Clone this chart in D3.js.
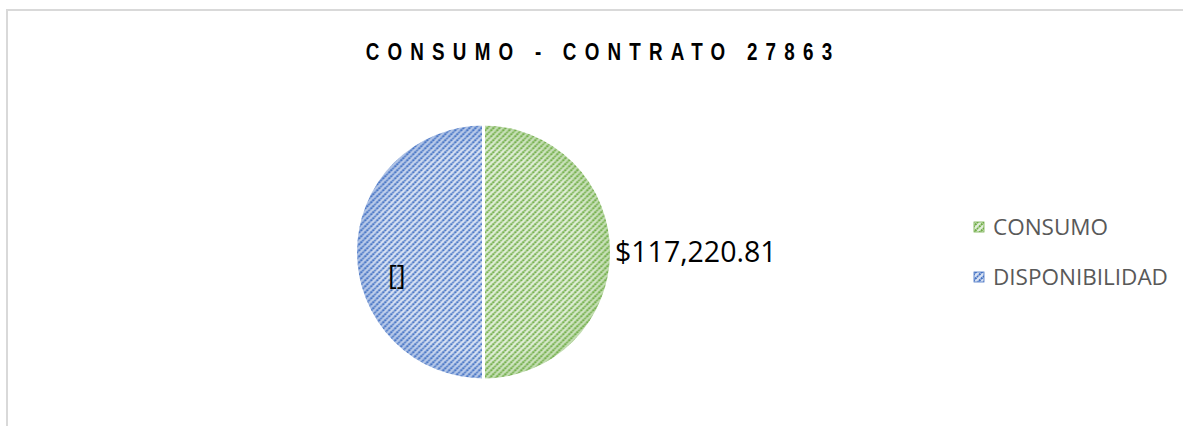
<!DOCTYPE html>
<html>
<head>
<meta charset="utf-8">
<script src="https://cdn.jsdelivr.net/npm/d3@7"></script>
<style>
  body { margin: 0; background: #fff; }
</style>
</head>
<body>
<div id="chart"></div>
<script>
// chart data
var categories = ['CONSUMO', 'DISPONIBILIDAD'];
var values = [117220.81, 117220.81];
var labels = ['$117,220.81', '[]'];
var lineColors = ['#70ad47', '#4472c4'];
var fillColors = ['#e2efda', '#dae3f3'];
var title = 'CONSUMO - CONTRATO 27863';

var width = 1183, height = 426;

var svg = d3.select('#chart').append('svg')
  .attr('width', width)
  .attr('height', height);

var defs = svg.append('defs');

// hatch patterns + edge shading for each slice
categories.forEach(function (c, i) {
  var p = defs.append('pattern')
    .attr('id', 'hatch' + i)
    .attr('patternUnits', 'userSpaceOnUse')
    .attr('width', 6).attr('height', 6);
  p.append('rect').attr('width', 6).attr('height', 6).attr('fill', fillColors[i]);
  p.append('path')
    .attr('d', 'M-1,7 L7,-1 M-4,4 L4,-4 M2,10 L10,2')
    .attr('stroke', lineColors[i])
    .attr('stroke-width', 2)
    .attr('stroke-dasharray', '2.2,0.6');

  var g = defs.append('radialGradient')
    .attr('id', 'edge' + i)
    .attr('gradientUnits', 'userSpaceOnUse')
    .attr('cx', 0).attr('cy', 0).attr('r', 128);
  g.append('stop').attr('offset', '80%').attr('stop-color', lineColors[i]).attr('stop-opacity', 0);
  g.append('stop').attr('offset', '100%').attr('stop-color', lineColors[i]).attr('stop-opacity', 0.3);
});

// chart border
svg.append('rect')
  .attr('x', 7).attr('y', 10)
  .attr('width', 1200).attr('height', 430)
  .attr('fill', 'none')
  .attr('stroke', '#d9d9d9')
  .attr('stroke-width', 2);

// title (condensed bold, wide tracking)
svg.append('text')
  .attr('transform', 'translate(603,60) scale(0.8,1)')
  .attr('text-anchor', 'middle')
  .attr('font-family', 'Liberation Sans, Arial, sans-serif')
  .attr('font-weight', 'bold')
  .attr('font-size', 23.5)
  .attr('letter-spacing', 10.3)
  .attr('fill', '#000')
  .text(title);

// pie
var cx = 483.5, cy = 252, r = 128;

var pie = d3.pie().sort(null).value(function (d) { return d; });
var arc = d3.arc().innerRadius(0).outerRadius(r);
var arcs = pie(values);

var pg = svg.append('g').attr('transform', 'translate(' + cx + ',' + cy + ')');

pg.selectAll('path.slice')
  .data(arcs)
  .enter().append('path')
  .attr('class', 'slice')
  .attr('d', arc)
  .attr('fill', function (d, i) { return 'url(#hatch' + i + ')'; });

pg.selectAll('path.edge')
  .data(arcs)
  .enter().append('path')
  .attr('class', 'edge')
  .attr('d', arc)
  .attr('fill', function (d, i) { return 'url(#edge' + i + ')'; })
  .attr('stroke', '#fff')
  .attr('stroke-width', 3);

// data labels
svg.append('text')
  .attr('x', 615).attr('y', 262)
  .attr('font-family', 'Open Sans, sans-serif')
  .attr('font-size', 28.5)
  .attr('fill', '#000')
  .text(labels[0]);

svg.append('text')
  .attr('x', 388).attr('y', 285)
  .attr('font-family', 'Open Sans, sans-serif')
  .attr('font-size', 27)
  .attr('fill', '#000')
  .text(labels[1]);

// legend
var legend = svg.append('g');
categories.forEach(function (c, i) {
  var y = 227 + i * 50;
  legend.append('rect')
    .attr('x', 974).attr('y', y - 5)
    .attr('width', 10).attr('height', 10)
    .attr('fill', 'url(#hatch' + i + ')')
    .attr('stroke', lineColors[i])
    .attr('stroke-width', 0.8);
  legend.append('text')
    .attr('x', 993).attr('y', y + 8)
    .attr('font-family', 'Open Sans, sans-serif')
    .attr('font-size', 22.5)
    .attr('fill', '#595959')
    .text(c);
});
</script>
</body>
</html>
